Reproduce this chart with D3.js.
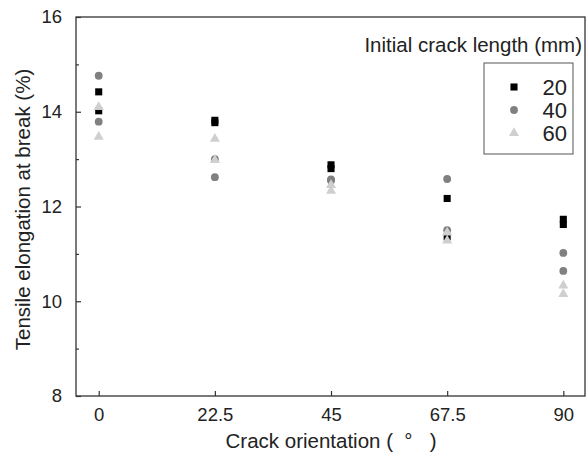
<!DOCTYPE html>
<html><head><meta charset="utf-8">
<script src="https://cdn.jsdelivr.net/npm/d3@7"></script>
<style>body{margin:0;background:#fff}svg{display:block}text{font-family:"Liberation Sans",Arial,sans-serif;fill:#222}</style>
</head><body>
<svg id="c" width="586" height="459"></svg>
<script>
const categories = [0, 22.5, 45, 67.5, 90];
const xTickLabels = ["0", "22.5", "45", "67.5", "90"];
const yTicks = [8, 10, 12, 14, 16];
const yMinorTicks = [9, 11, 13, 15];
const seriesNames = ["20", "40", "60"];
// two specimens per crack length
const s20a = [14.42, 13.82, 12.88, 12.17, 11.73];
const s20b = [14.02, 13.77, 12.80, 11.36, 11.62];
const s40a = [14.76, 13.00, 12.57, 12.58, 11.02];
const s40b = [13.79, 12.62, 12.55, 11.50, 10.64];
const s60a = [14.10, 13.43, 12.45, 11.45, 10.33];
const s60b = [13.47, 12.98, 12.33, 11.28, 10.15];

const series = [
  {name: seriesNames[0], vals: [s20a, s20b], shape: d3.symbolSquare, color: "#000", size: 50},
  {name: seriesNames[1], vals: [s40a, s40b], shape: d3.symbolCircle, color: "#808080", size: 48},
  {name: seriesNames[2], vals: [s60a, s60b], shape: d3.symbolTriangle, color: "#cfcfcf", size: 44}
];

const svg = d3.select("#c");
const L = 76, R = 585, T = 17, B = 396;
const x = d3.scaleLinear().domain([-4.4, 94.2]).range([L, R]);
const y = d3.scaleLinear().domain([8, 16]).range([B, T]);

// frame
svg.append("rect").attr("x", L).attr("y", T).attr("width", R - L).attr("height", B - T)
  .attr("fill", "none").attr("stroke", "#333").attr("stroke-width", 1.3);

// axes
const xAxis = d3.axisBottom(x).tickValues(categories).tickFormat((d, i) => xTickLabels[i]).tickSizeInner(-5).tickSizeOuter(0).tickPadding(12);
const gx = svg.append("g").attr("transform", `translate(0,${B})`).call(xAxis);
gx.select(".domain").remove();
gx.selectAll("line").attr("stroke", "#333").attr("stroke-width", 1.2);
gx.selectAll("text").attr("font-size", 18.5).attr("fill", "#222").style("font-family", "Liberation Sans, Arial, sans-serif");

const yAxis = d3.axisLeft(y).tickValues(yTicks).tickSizeInner(-5).tickSizeOuter(0).tickPadding(14);
const gy = svg.append("g").attr("transform", `translate(${L},0)`).call(yAxis);
gy.select(".domain").remove();
gy.selectAll("line").attr("stroke", "#333").attr("stroke-width", 1.2);
gy.selectAll("text").attr("font-size", 18.5).attr("fill", "#222").style("font-family", "Liberation Sans, Arial, sans-serif");

const gym = svg.append("g").attr("transform", `translate(${L},0)`)
  .call(d3.axisLeft(y).tickValues(yMinorTicks).tickSizeInner(-3).tickSizeOuter(0).tickFormat(""));
gym.select(".domain").remove();
gym.selectAll("line").attr("stroke", "#333").attr("stroke-width", 1.2);

// points
series.forEach(s => {
  const sym = d3.symbol().type(s.shape).size(s.size);
  s.vals.forEach(arr => {
    svg.append("g").selectAll("path").data(arr).join("path")
      .attr("d", sym)
      .attr("transform", (d, i) => `translate(${x(categories[i])},${y(d)})`)
      .attr("fill", s.color);
  });
});

// axis titles
svg.append("text").attr("x", 331).attr("y", 448).attr("text-anchor", "middle")
  .attr("font-size", 20.5).style("white-space", "pre").text("Crack orientation (\u00A0\u00A0\u00B0\u00A0\u00A0\u00A0)");
svg.append("text").attr("transform", `translate(30,${(T + B) / 2 + 3}) rotate(-90)`).attr("text-anchor", "middle")
  .attr("font-size", 20.5).text("Tensile elongation at break (%)");

// legend
svg.append("text").attr("x", 582).attr("y", 52).attr("text-anchor", "end").attr("font-size", 20.5)
  .text("Initial crack length (mm)");
svg.append("rect").attr("x", 484).attr("y", 63).attr("width", 89).attr("height", 91)
  .attr("fill", "#fff").attr("stroke", "#555").attr("stroke-width", 1);
const lg = svg.append("g");
series.forEach((s, i) => {
  const yy = 87 + i * 23;
  lg.append("path").attr("d", d3.symbol().type(s.shape).size(s.size)())
    .attr("transform", `translate(514,${yy})`).attr("fill", s.color);
  lg.append("text").attr("x", 567).attr("y", yy + 8).attr("text-anchor", "end").attr("font-size", 22).text(s.name);
});
</script>
</body></html>
